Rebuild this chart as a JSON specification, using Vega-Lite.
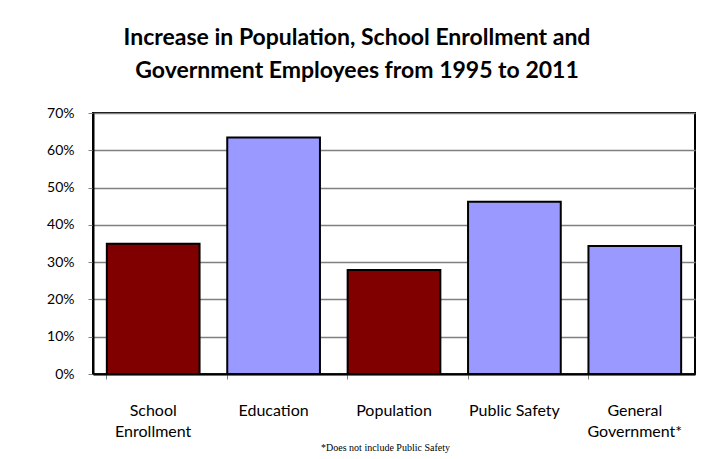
{
  "$schema": "https://vega.github.io/schema/vega-lite/v6.json",
  "width": 602,
  "height": 261,
  "autosize": {"type": "none"},
  "padding": {"left": 93, "top": 113, "right": 22, "bottom": 85},
  "background": "white",
  "title": {
    "text": ["Increase in Population, School Enrollment and", "Government Employees from 1995 to 2011"],
    "font": "Lato",
    "fontSize": 23,
    "fontWeight": "bold",
    "color": "black",
    "anchor": "middle",
    "frame": "group",
    "dx": -37,
    "offset": 23,
    "lineHeight": 33
  },
  "data": {
    "values": [
      {"category": "School Enrollment", "increase": 0.349, "group": "A"},
      {"category": "Education", "increase": 0.634, "group": "B"},
      {"category": "Population", "increase": 0.279, "group": "A"},
      {"category": "Public Safety", "increase": 0.462, "group": "B"},
      {"category": "General Government*", "increase": 0.343, "group": "B"}
    ]
  },
  "mark": {"type": "bar", "stroke": "black", "strokeWidth": 2},
  "encoding": {
    "x": {
      "field": "category",
      "type": "nominal",
      "sort": null,
      "scale": {"paddingInner": 0.23, "paddingOuter": 0.115},
      "axis": {
        "title": "*Does not include Public Safety",
        "titleFont": "Liberation Serif",
        "titleFontSize": 10,
        "titleFontWeight": "normal",
        "titleColor": "black",
        "titlePadding": 3,
        "titleX": 292,
        "labelAngle": 0,
        "labelFont": "Lato",
        "labelFontSize": 16,
        "labelColor": "black",
        "labelPadding": 23,
        "labelLineHeight": 21,
        "labelExpr": "datum.value == 'School Enrollment' ? ['School', 'Enrollment'] : datum.value == 'General Government*' ? ['General', 'Government*'] : datum.value",
        "bandPosition": 0,
        "ticks": true,
        "tickSize": 5,
        "tickColor": "#808080",
        "domainColor": "black",
        "domainWidth": 2
      }
    },
    "y": {
      "field": "increase",
      "type": "quantitative",
      "scale": {"domain": [0, 0.7]},
      "axis": {
        "title": null,
        "format": ".0%",
        "values": [0, 0.1, 0.2, 0.3, 0.4, 0.5, 0.6, 0.7],
        "labelFont": "Lato",
        "labelFontSize": 14,
        "labelColor": "black",
        "labelPadding": 14,
        "tickSize": 5,
        "tickColor": "#808080",
        "gridColor": "#808080",
        "gridWidth": 1.5,
        "domainColor": "black",
        "domainWidth": 2
      }
    },
    "color": {
      "field": "group",
      "type": "nominal",
      "scale": {"domain": ["A", "B"], "range": ["#800000", "#9999FF"]},
      "legend": null
    }
  },
  "config": {
    "view": {"stroke": "black", "strokeWidth": 2},
    "axis": {"grid": true},
    "axisX": {"grid": false}
  }
}
